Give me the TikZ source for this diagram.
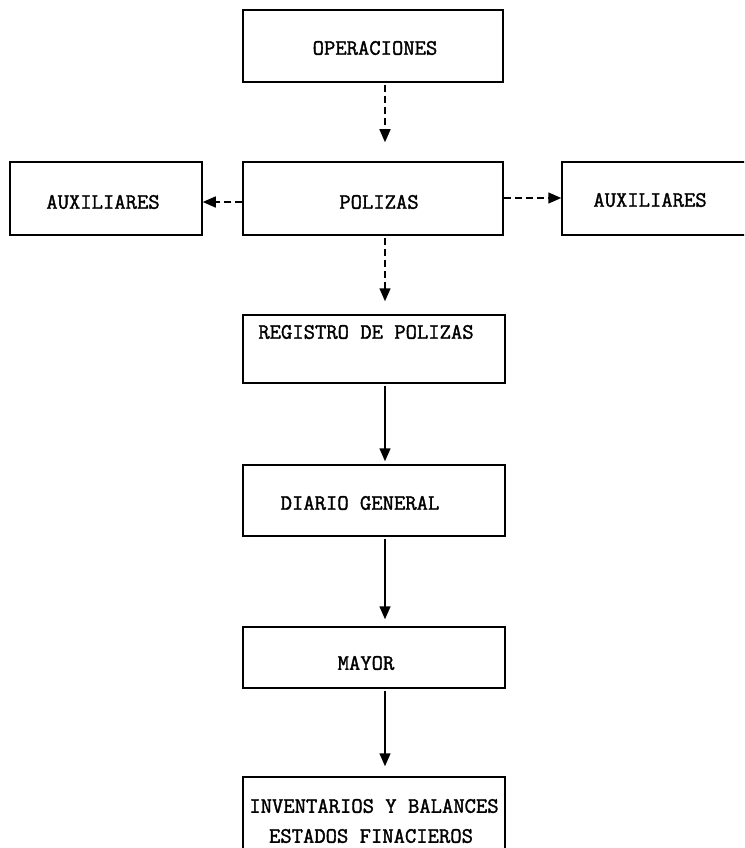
\documentclass[tikz,border=0pt]{standalone}
\usepackage{fontspec}
\newfontfamily\twfont{Latin Modern Mono}[FakeBold=1.6]
\usetikzlibrary{arrows.meta}
\begin{document}
\begin{tikzpicture}[x=1pt,y=-1pt,
  box/.style={draw,line width=1.5pt,rectangle,inner sep=0pt},
  txt/.style={inner sep=0pt,font=\twfont\fontsize{22}{30}\selectfont},
  arr/.style={line width=1.5pt,-{Triangle[length=13pt,width=11pt]}},
  darr/.style={arr,dash pattern=on 7pt off 4pt}]
\useasboundingbox (0,0) rectangle (744,848);
\clip (0,0) rectangle (744,848);
% boxes
\node[box,minimum width=260pt,minimum height=72pt] (oper) at (373,46) {};
\node[box,minimum width=192pt,minimum height=73pt] (auxl) at (106,198.5) {};
\node[box,minimum width=260pt,minimum height=73pt] (pol) at (373,198.5) {};
\node[box,minimum width=220pt,minimum height=73pt] (auxr) at (672,198.5) {};
\node[box,minimum width=262pt,minimum height=68pt] (reg) at (374,349) {};
\node[box,minimum width=262pt,minimum height=71pt] (dia) at (374,500.5) {};
\node[box,minimum width=262pt,minimum height=61pt] (may) at (374,657.5) {};
\node[box,minimum width=262pt,minimum height=110pt] (inv) at (374,832) {};
% texts
\node[txt] (toper) at (375,48) {OPERACIONES};
\node[txt] (tauxl) at (103,202) {AUXILIARES};
\node[txt] (tpol) at (379,202) {POLIZAS};
\node[txt] (tauxr) at (650,200) {AUXILIARES};
\node[txt] (treg) at (366,332) {REGISTRO DE POLIZAS};
\node[txt] (tdia) at (360,503) {DIARIO GENERAL};
\node[txt] (tmay) at (366,663) {MAYOR};
\node[txt] (tinv1) at (374,806) {INVENTARIOS Y BALANCES};
\node[txt] (tinv2) at (371,836) {ESTADOS FINACIEROS};
% connectors
\coordinate (ax) at (385,0);
\coordinate (ly) at (0,202);
\coordinate (ry) at (0,198);
\draw[darr] ([yshift=-2pt]oper.south -| ax) -- ([yshift=19pt]pol.north -| ax);
\draw[darr] ([yshift=-2pt]pol.south -| ax) -- ([yshift=13pt]reg.north -| ax);
\draw[arr] ([yshift=-2pt]reg.south -| ax) -- ([yshift=3pt]dia.north -| ax);
\draw[arr] ([yshift=-2pt]dia.south -| ax) -- ([yshift=7pt]may.north -| ax);
\draw[arr] ([yshift=-2pt]may.south -| ax) -- ([yshift=10pt]inv.north -| ax);
\draw[darr] (pol.west |- ly) -- (auxl.east |- ly);
\draw[darr] (pol.east |- ry) -- (auxr.west |- ry);
\end{tikzpicture}
\end{document}
